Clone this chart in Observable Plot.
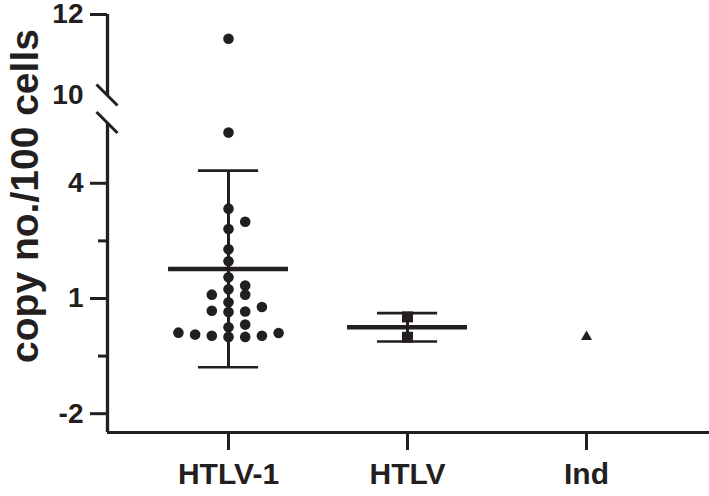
<!DOCTYPE html>
<html><head><meta charset="utf-8">
<script src="https://cdn.jsdelivr.net/npm/d3@7"></script>
<script src="https://cdn.jsdelivr.net/npm/@observablehq/plot@0.6"></script>
<style>html,body{margin:0;padding:0;background:#fff}</style>
</head><body><div id="chart"></div>
<script>
// ---- data ----
const categories = ["HTLV-1", "HTLV", "Ind"];
const categorySymbols = ["circle", "square", "triangle"];
const htlv1Values = [11.4, 5.32, 3.34, 3.0, 2.81, 2.28, 1.97, 1.55, 1.34, 1.24, 1.10, 1.10, 0.90, 0.78,
                     0.68, 0.66, 0.65, 0.32, 0.25, 0.11, 0.10, 0.06, 0.03, 0.03, 0.0, 0.0];
const htlvValues = [0.52, -0.01];
const indValues = [0.0];
const meanValues = [1.77, 0.25];   // HTLV-1, HTLV
const sdValues = [2.56, 0.37];
const yTicksMajor = [-2, 1, 4, 12];
const yTicksBreak = [10];
const yTicksMinor = [-0.5, 2.5];
const yAxisTitle = "copy no./100 cells";

// ---- layout / scale configuration ----
const W = 709, H = 496;
const margin = {left: 107, right: 0, top: 14, bottom: 64};
const breakLow = 5.57, breakHigh = 10;
const yDomain = [-2.49, breakLow, breakHigh, 12];
const yRange = [432, 122.5, 95, 14];
const xDomain = [-0.676, 2.687];
const ink = "#231f20";

const yS = Plot.scale({y: {type: "linear", domain: yDomain, range: yRange}});
const xS = Plot.scale({x: {type: "linear", domain: xDomain, range: [margin.left, W - margin.right]}});
const pxPerX = xS.apply(1) - xS.apply(0);

// column scatter layout (like a dot plot): stack into side columns when points collide
function swarm(values, center, stepPx, gapPx) {
  const order = d3.range(values.length).sort((a, b) => d3.ascending(values[a], values[b]));
  const cols = new Map();
  const out = new Array(values.length);
  for (const i of order) {
    const py = yS.apply(values[i]);
    for (let j = 0; ; j++) {
      const k = j === 0 ? 0 : (j % 2 ? (j + 1) / 2 : -j / 2);
      const col = cols.get(k) || [];
      if (col.every(p => Math.abs(p - py) >= gapPx)) {
        col.push(py); cols.set(k, col);
        out[i] = center + k * stepPx / pxPerX;
        break;
      }
    }
  }
  return out;
}

const groupValues = [htlv1Values, htlvValues, indValues];
const points = groupValues.flatMap((vals, gi) => {
  const xs = swarm(vals, gi, 16.7, 9);
  return vals.map((v, j) => ({group: categories[gi], gi, value: v, x: xs[j]}));
});
const stats = meanValues.map((m, i) => ({gi: i, mean: m, sd: sdValues[i]}));

const dotSizes = {circle: 5.3, square: 6.2, triangle: 4.1};
const fmt = d => String(d);

function breakSlashes(index, scales) {
  const ns = "http://www.w3.org/2000/svg";
  const g = document.createElementNS(ns, "g");
  const x0 = scales.x(xDomain[0]);
  for (const v of [breakHigh, breakLow]) {
    const cy = scales.y(v);
    const l = document.createElementNS(ns, "line");
    l.setAttribute("x1", x0 - 10.5); l.setAttribute("y1", cy - 10.5);
    l.setAttribute("x2", x0 + 10.5); l.setAttribute("y2", cy + 10.5);
    l.setAttribute("stroke", ink); l.setAttribute("stroke-width", 3);
    g.appendChild(l);
  }
  return g;
}

const chart = Plot.plot({
  width: W, height: H,
  marginLeft: margin.left, marginRight: margin.right, marginTop: margin.top, marginBottom: margin.bottom,
  style: {fontFamily: "'Liberation Sans', Arial, sans-serif", fontWeight: "bold", color: ink, background: "#fff"},
  x: {type: "linear", domain: xDomain},
  y: {type: "linear", domain: yDomain, range: yRange},
  marks: [
    // axis lines (broken y axis)
    Plot.ruleX([xDomain[0]], {y1: yDomain[0], y2: breakLow, stroke: ink, strokeWidth: 3.3}),
    Plot.ruleX([xDomain[0]], {y1: breakHigh, y2: yDomain[3], stroke: ink, strokeWidth: 3.3}),
    Plot.ruleY([yDomain[0]], {x1: xDomain[0], x2: xDomain[1], stroke: ink, strokeWidth: 3}),
    Plot.axisY(yTicksMajor, {tickSize: 17, tickPadding: 7, fontSize: 28, strokeWidth: 3, stroke: ink,
      tickFormat: fmt, label: null}),
    Plot.axisY(yTicksBreak, {tickSize: 0, tickPadding: 24, fontSize: 28, tickFormat: fmt, label: null}),
    Plot.axisY(yTicksMinor, {tickSize: 9, text: null, strokeWidth: 3, stroke: ink, label: null}),
    Plot.axisX([0, 1, 2], {tickSize: 18, tickPadding: 12, fontSize: 30, strokeWidth: 3, stroke: ink,
      tickFormat: i => categories[i], label: null}),
    breakSlashes,
    // mean ± SD
    Plot.ruleX(stats, {x: "gi", y1: d => d.mean - d.sd, y2: d => d.mean + d.sd, stroke: ink, strokeWidth: 3}),
    Plot.ruleY(stats, {y: d => d.mean + d.sd, x1: d => d.gi - 0.168, x2: d => d.gi + 0.168, stroke: ink, strokeWidth: 2.6}),
    Plot.ruleY(stats, {y: d => d.mean - d.sd, x1: d => d.gi - 0.168, x2: d => d.gi + 0.168, stroke: ink, strokeWidth: 2.6}),
    Plot.ruleY(stats, {y: "mean", x1: d => d.gi - 0.335, x2: d => d.gi + 0.335, stroke: ink, strokeWidth: 4.5}),
    // points
    ...categories.map((c, gi) => Plot.dot(points.filter(p => p.gi === gi), {
      x: "x", y: "value", symbol: categorySymbols[gi], r: dotSizes[categorySymbols[gi]], fill: ink, stroke: "none"
    })),
    // y axis title
    Plot.text([yAxisTitle], {text: d => d, frameAnchor: "left", textAnchor: "middle", rotate: -90,
      dx: -82, dy: -27.5, fontSize: 39, fontWeight: "bold", fill: ink})
  ]
});
document.getElementById("chart").appendChild(chart);
</script>
</body></html>
